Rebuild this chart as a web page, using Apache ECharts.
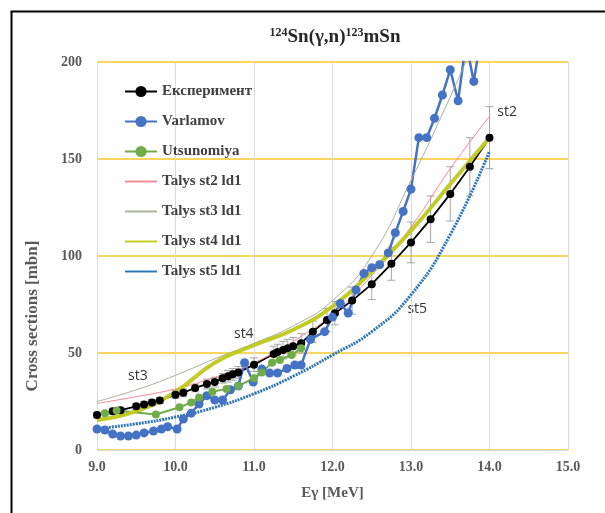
<!DOCTYPE html>
<html><head><meta charset="utf-8">
<script src="https://cdn.jsdelivr.net/npm/echarts@6/dist/echarts.min.js"></script>
<style>html,body{margin:0;padding:0;background:#fff}#c{width:605px;height:513px}</style>
</head><body><div id="c"></div>
<script>
// ---- data ----
const expE = [9.0,9.2,9.3,9.5,9.6,9.7,9.8,10.0,10.1,10.25,10.4,10.5,10.6,10.67,10.73,10.8,11.0,11.25,11.3,11.37,11.43,11.5,11.6,11.75,11.93,12.03,12.25,12.5,12.75,13.0,13.25,13.5,13.75,14.0];
const expV = [18,20,20.5,22.5,23.5,24.5,25.5,28.5,29.5,32,34,35,37,38,39,40,44,49.5,50.5,51.5,52.5,53.5,55,61,67,70.5,77,85.5,96,107,119,132,146,161];
const expErr = [1.5,1.5,1.5,1.5,1.5,1.5,1.5,2,2,2,2.5,2.5,2.5,3,3,3,3.5,4,4,4.5,4.5,4.5,5,5.5,6,6,7,8,8.5,10.5,12,14,15,16];

const varE = [9.0,9.1,9.2,9.3,9.4,9.5,9.6,9.72,9.82,9.9,10.02,10.1,10.2,10.3,10.4,10.5,10.6,10.7,10.8,10.88,10.99,11.1,11.2,11.3,11.42,11.52,11.6,11.72,11.9,12.0,12.1,12.2,12.3,12.4,12.5,12.6,12.71,12.8,12.9,13.0,13.1,13.2,13.3,13.4,13.5,13.6,13.7,13.8,13.9];
const varV = [10.8,10.3,8.2,7.2,7.2,7.7,8.8,9.8,10.8,12,10.8,16,19,23.7,28,25.8,25.8,31,33,45,35,41.7,39.7,39.7,42,43.8,43.8,57,61,68.5,75.5,70.6,82.5,91,94,95.5,101.6,112,123,134.5,161,161,171,183,196,180,210,190,215];

const utsE = [9.1,9.25,9.75,10.05,10.2,10.3,10.47,10.65,10.8,11.0,11.1,11.23,11.33,11.48,11.6];
const utsV = [19,20.3,18.3,22,24.5,27,30,31.5,33,37,40,45,46.4,49,52.5];

const talE = [9.0,9.5,10.0,10.5,11.0,11.5,12.0,12.5,13.0,13.5,14.0];
const st2V = [24,27.5,31.5,37.5,45,56,70,90,115,145,172];
const st4V = [15.5,20,30,45,54,62,74,92,113,137,161];
const st5V = [11,13.5,17,22,29,38,49,61,80,111,154];
const st3E = [9.0,9.5,10.0,10.5,11.0,11.5,12.0,12.5,13.0,13.5,13.75];
const st3V = [25,31,38.5,47,55,64,77,100,139,182,205];

const seriesNames = ['Експеримент','Varlamov','Utsunomiya','Talys st2 ld1','Talys st3 ld1','Talys st4 ld1','Talys st5 ld1'];
const xTicks = {min:9, max:15, interval:1};
const yTicks = {min:0, max:200, interval:50};
const notes = [
  {text:'st2', e:14.1, v:174, align:'left'},
  {text:'st3', e:9.52, v:38, align:'center'},
  {text:'st4', e:10.87, v:60, align:'center'},
  {text:'st5', e:13.08, v:72.5, align:'center'}
];

const zip = (a,b)=>a.map((x,i)=>[x,b[i]]);
const serif = '"Liberation Serif","Times New Roman",serif';
const lineIcon = 'path://M0,0L40,0L40,2.4L0,2.4Z';

const chart = echarts.init(document.getElementById('c'));
const option = {
  animation:false,
  backgroundColor:'#fff',
  title:{
    text:'{sup|124}Sn(γ,n){sup|123}mSn',
    left:330, textAlign:'center', top:22,
    textStyle:{fontFamily:serif,fontWeight:'bold',fontSize:19,color:'#262626',
      rich:{sup:{fontFamily:serif,fontWeight:'bold',fontSize:12,verticalAlign:'top',color:'#262626',padding:[0,0,8,0]}}}
  },
  grid:{left:97,right:37,top:62,bottom:63},
  legend:{
    orient:'vertical', left:124, top:84, padding:0, itemGap:15, itemWidth:32, itemHeight:14,
    data:seriesNames.map((n,i)=> i<3 ? {name:n} : {name:n, icon:lineIcon}),
    textStyle:{fontFamily:serif,fontWeight:'bold',fontSize:15,color:'#404040'}
  },
  xAxis:{
    type:'value', min:xTicks.min, max:xTicks.max, interval:xTicks.interval,
    name:'Eγ [MeV]', nameLocation:'middle', nameGap:36,
    nameTextStyle:{fontFamily:serif,fontWeight:'bold',fontSize:15,color:'#595959'},
    axisLine:{show:true,lineStyle:{color:'#d9d9d9',width:1}},
    axisTick:{show:false},
    axisLabel:{fontFamily:serif,fontWeight:'bold',fontSize:14,color:'#595959',margin:10,formatter:v=>v.toFixed(1)},
    splitLine:{show:true,lineStyle:{color:'#d9d9d9',width:1}}
  },
  yAxis:{
    type:'value', min:yTicks.min, max:yTicks.max, interval:yTicks.interval,
    axisLine:{show:false}, axisTick:{show:false},
    axisLabel:{fontFamily:serif,fontWeight:'bold',fontSize:14,color:'#595959',margin:15},
    splitLine:{show:true,lineStyle:{color:'#fbd560',width:2}}
  },
  graphic:[
    {type:'rect',left:9,top:9,shape:{x:0,y:0,width:700,height:600},
     style:{fill:'none',stroke:'#000',lineWidth:2},silent:true},
    {type:'text',x:33,y:316,rotation:Math.PI/2,silent:true,
     style:{text:'Cross sections [mbn]',fill:'#595959',align:'center',verticalAlign:'middle',
       font:'bold 17px "Liberation Serif","Times New Roman",serif'}}
  ],
  series:[
    {type:'custom', name:'err', silent:true, z:1,
     data:expE.map((e,i)=>[e,expV[i],expErr[i]]),
     renderItem:(params,api)=>{
       const x=api.value(0), y=api.value(1), er=api.value(2);
       const top=api.coord([x,y+er]), bot=api.coord([x,y-er]);
       const st={stroke:'#a6a6a6',lineWidth:1};
       return {type:'group',children:[
         {type:'line',shape:{x1:top[0],y1:top[1],x2:bot[0],y2:bot[1]},style:st},
         {type:'line',shape:{x1:top[0]-4,y1:top[1],x2:top[0]+4,y2:top[1]},style:st},
         {type:'line',shape:{x1:bot[0]-4,y1:bot[1],x2:bot[0]+4,y2:bot[1]},style:st}
       ]};
     }},
    {type:'line', name:seriesNames[0], data:zip(expE,expV), symbol:'circle', symbolSize:8,
     itemStyle:{color:'#000'}, lineStyle:{color:'#000',width:1.8}, z:3},
    {type:'line', name:seriesNames[1], data:zip(varE,varV), symbol:'circle', symbolSize:9,
     itemStyle:{color:'#4472c4'}, lineStyle:{color:'#4472c4',width:2.5}, z:3},
    {type:'line', name:seriesNames[2], data:zip(utsE,utsV), symbol:'circle', symbolSize:8,
     itemStyle:{color:'#70ad47'}, lineStyle:{color:'#70ad47',width:2}, z:3},
    {type:'line', name:seriesNames[3], data:zip(talE,st2V), symbol:'none', smooth:true,
     itemStyle:{color:'#f28b95'}, lineStyle:{color:'#f28b95',width:1}, z:3},
    {type:'line', name:seriesNames[4], data:zip(st3E,st3V), symbol:'none', smooth:true,
     itemStyle:{color:'#a8b09a'}, lineStyle:{color:'#a8b09a',width:1}, z:3},
    {type:'line', name:seriesNames[5], data:zip(talE,st4V), symbol:'none', smooth:true,
     itemStyle:{color:'#c3cc1c'}, lineStyle:{color:'#c3cc1c',width:3.5,shadowColor:'rgba(100,150,50,0.6)',shadowBlur:1}, z:3},
    {type:'line', name:seriesNames[6], data:zip(talE,st5V), symbol:'none', smooth:true,
     itemStyle:{color:'#2e75b6'}, lineStyle:{color:'#2e75b6',width:3,type:[2,1]}, z:3}
  ]
};
chart.setOption(option);
const g = notes.map(n=>{
  const p = chart.convertToPixel({gridIndex:0},[n.e,n.v]);
  return {type:'text',x:p[0],y:p[1],silent:true,
    style:{text:n.text,fill:'#333',font:'14px "Open Sans","Liberation Sans",sans-serif',align:n.align,verticalAlign:'middle'}};
});
chart.setOption({graphic:option.graphic.concat(g)});
</script></body></html>
